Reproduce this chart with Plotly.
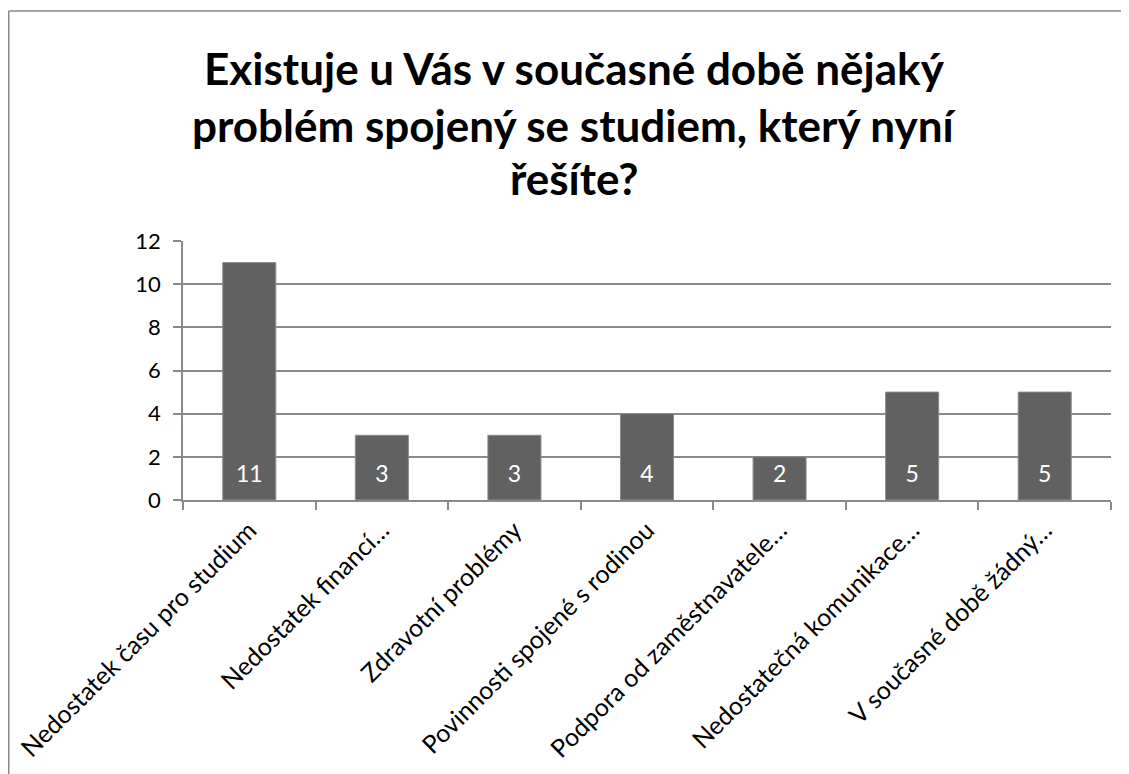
import plotly.graph_objects as go

categories = [
    "Nedostatek času pro studium",
    "Nedostatek financí…",
    "Zdravotní problémy",
    "Povinnosti spojené s rodinou",
    "Podpora od zaměstnavatele…",
    "Nedostatečná komunikace…",
    "V současné době žádný…",
]
values = [11, 3, 3, 4, 2, 5, 5]
title_lines = [
    "Existuje u Vás v současné době nějaký",
    "problém spojený se studiem, který nyní",
    "řešíte?",
]
y_ticks = [0, 2, 4, 6, 8, 10, 12]
base = [0] * len(values)

FONT = "Lato"
W, H = 1129, 774
# page body has an 8px margin: figure coords = screen coords - 8
L, R, T, B = 175, 1103, 233, 492

fig = go.Figure()
fig.add_trace(go.Bar(
    x=categories,
    y=values,
    marker=dict(color="#616161", line=dict(color="#8c8c8c", width=1)),
    hoverinfo="x+y",
))
# value labels sitting near the bar bases
fig.add_trace(go.Scatter(
    x=categories,
    y=base,
    mode="markers+text",
    text=[str(v) for v in values],
    textposition="top center",
    textfont=dict(family=FONT, size=23, color="white"),
    marker=dict(size=18, opacity=0),
    cliponaxis=False,
    hoverinfo="skip",
))

grid = "#8a8a8a"
fig.update_layout(
    width=W, height=H,
    margin=dict(l=L, r=W - R, t=T, b=H - B, autoexpand=False),
    paper_bgcolor="white",
    plot_bgcolor="white",
    bargap=0.6,
    showlegend=False,
    xaxis=dict(
        type="category",
        tickangle=-45,
        tickfont=dict(family=FONT, size=25, color="#000000"),
        ticks="outside", tickson="boundaries", ticklen=8, tickcolor=grid, tickwidth=1.5,
        ticklabelstandoff=4,
        showline=True, linecolor=grid, linewidth=1.5,
        showgrid=False,
    ),
    yaxis=dict(
        range=[0, 12],
        tickvals=y_ticks,
        tickfont=dict(family=FONT, size=22, color="#000000"),
        ticks="outside", ticklen=8, tickcolor=grid, tickwidth=1.5,
        ticklabelstandoff=8,
        showline=True, linecolor=grid, linewidth=1.5,
        showgrid=True, gridcolor=grid, gridwidth=1.5,
        zeroline=False,
    ),
)

# chart frame (left and top edges visible)
fx0 = (0.75 - L) / (R - L)
fy_top = (B - 3) / (B - T)
fig.add_shape(type="line", xref="paper", yref="paper",
              x0=fx0, x1=fx0, y0=fy_top, y1=(B - 800) / (B - T),
              line=dict(color="#8a8a8a", width=1.5))
fig.add_shape(type="line", xref="paper", yref="paper",
              x0=fx0, x1=(1140 - L) / (R - L), y0=fy_top, y1=fy_top,
              line=dict(color="#8a8a8a", width=1.5))

centers = [60, 117, 170]
for line, yc in zip(title_lines, centers):
    fig.add_annotation(
        text="<b>%s</b>" % line,
        xref="paper", yref="paper",
        x=(566 - L) / (R - L), y=(B - yc) / (B - T),
        xanchor="center", yanchor="middle",
        showarrow=False,
        font=dict(family=FONT, size=44, color="#000000"),
    )

fig.write_html("out.html")
